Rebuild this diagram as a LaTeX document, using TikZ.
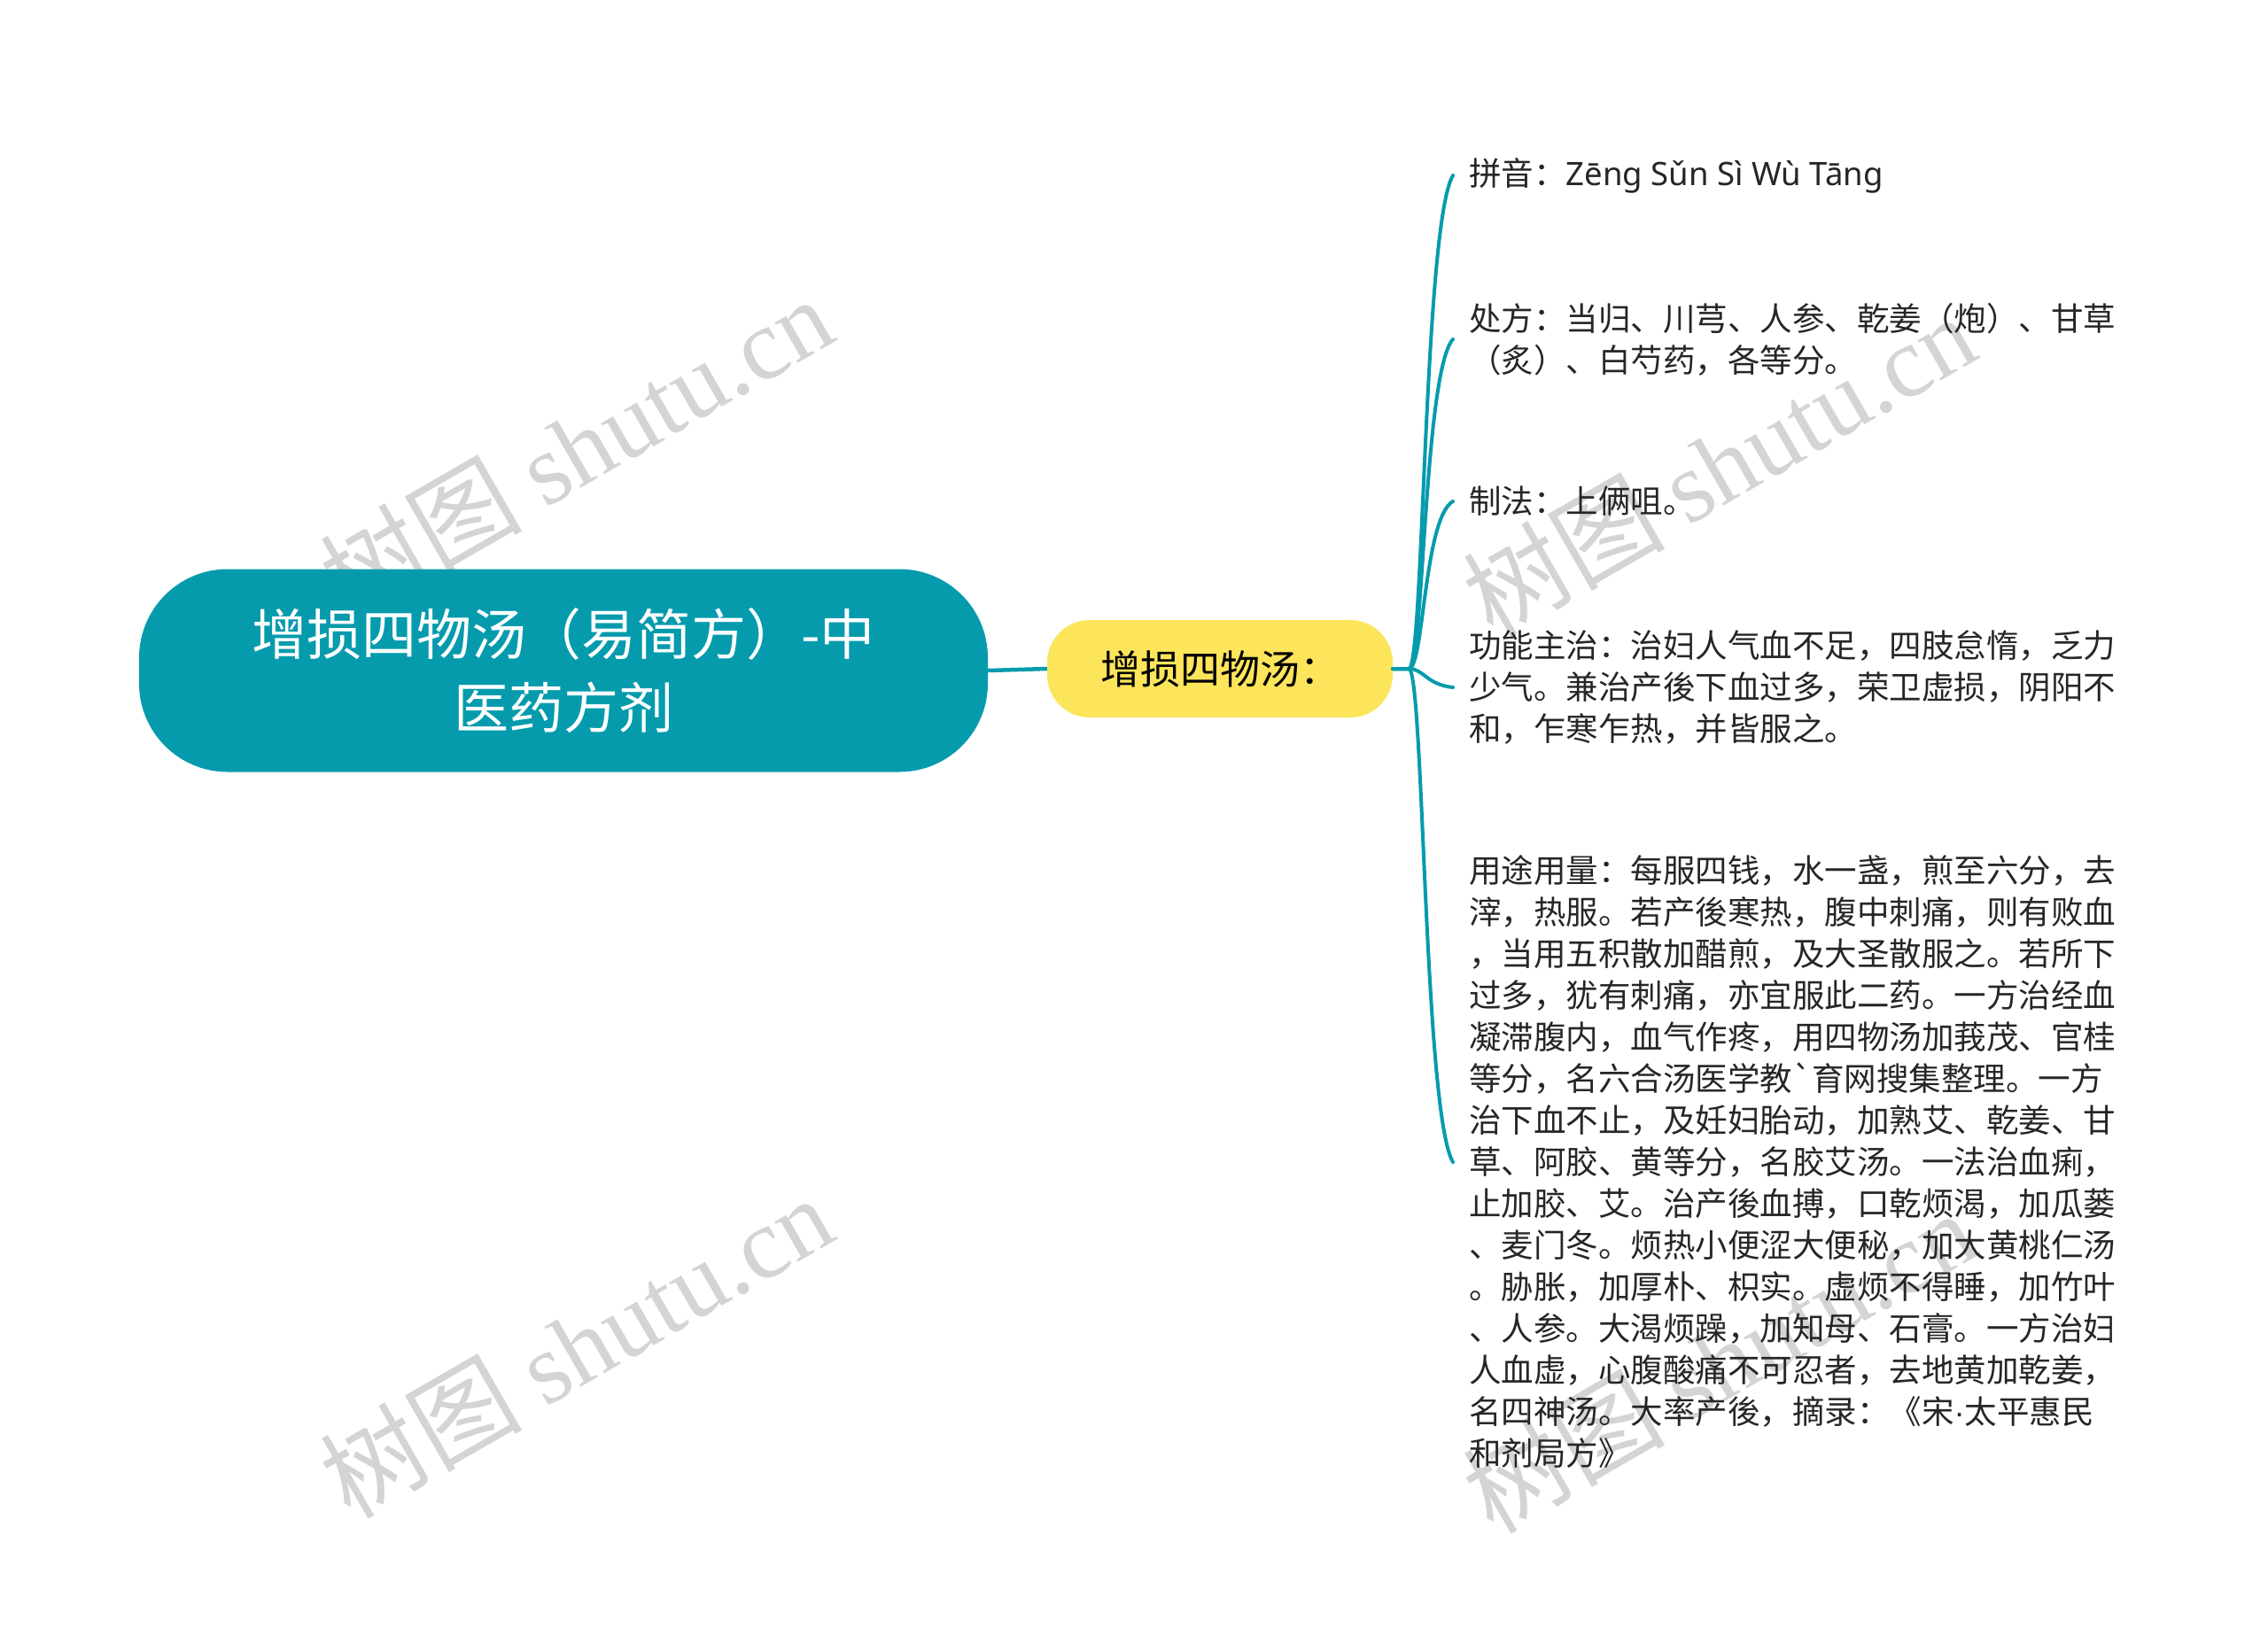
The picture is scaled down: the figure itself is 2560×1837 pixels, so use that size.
\documentclass[tikz,border=0pt]{standalone}
\usepackage{fontspec}
\setmainfont{Noto Sans CJK SC}
\newfontfamily\cjk{Noto Sans CJK SC}
\newfontfamily\latinf{Noto Sans}
\newfontfamily\dotf{Liberation Sans}
\newfontfamily\wmlatin{Liberation Serif}
\usetikzlibrary{calc}
\definecolor{tealc}{HTML}{059BAD}
\definecolor{yelc}{HTML}{FDE55B}
\definecolor{wmc}{HTML}{D4D4D4}
\definecolor{txtc}{HTML}{262626}
\begin{document}
\begin{tikzpicture}[x=1pt,y=-1pt,
  rootbox/.style={fill=tealc, draw=none, rounded corners=100pt, minimum width=958pt, minimum height=229pt, text=white, align=center, inner sep=0pt, font=\cjk\fontsize{62}{83}\selectfont},
  midbox/.style={fill=yelc, draw=none, rounded corners=48pt, minimum width=390pt, minimum height=110pt, text=black, align=center, inner sep=0pt, font=\cjk\fontsize{45}{55}\selectfont},
  leaf/.style={anchor=west, align=left, inner sep=0pt, text=txtc, font=\cjk\fontsize{36.5}{47}\selectfont},
  conn/.style={draw=tealc, line width=4.5pt},
  branch/.style={draw=tealc, line width=4pt, line cap=round},
  wmark/.style={text=wmc, rotate=30, inner sep=0pt, font=\fontsize{114}{120}\selectfont}
]
\useasboundingbox (0,0) rectangle (2560,1837);
\fill[white] (0,0) rectangle (2560,1837);

% watermarks
\node[wmark] (w1) at (650,505) {{\cjk 树图} {\wmlatin shutu.cn}};
\node[wmark] (w2) at (650,1520) {{\cjk 树图} {\wmlatin shutu.cn}};
\node[wmark] (w3) at (1940,525) {{\cjk 树图} {\wmlatin shutu.cn}};
\node[wmark] (w4) at (1940,1537) {{\cjk 树图} {\wmlatin shutu.cn}};

% nodes
\node[rootbox] (root) at (636,757) {增损四物汤（易简方）-中\\医药方剂};
\node[midbox] (mid) at (1377,755) {增损四物汤：};

\node[leaf] (n1) at (1658,198) {拼音：{\latinf Zēng Sǔn Sì Wù Tāng}};
\node[leaf] (n2) at (1658,383) {处方：当归、川芎、人参、乾姜（炮）、甘草\\（炙）、白芍药，各等分。};
\node[leaf] (n3) at (1658,566) {制法：上俩咀。};
\node[leaf] (n4) at (1658,776) {功能主治：治妇人气血不足，四肢怠惰，乏力\\少气。兼治产後下血过多，荣卫虚损，阴阳不\\和，乍寒乍热，并皆服之。};
\node[leaf] (n5) at (1658,1312) {用途用量：每服四钱，水一盏，煎至六分，去\\滓，热服。若产後寒热，腹中刺痛，则有败血\\，当用五积散加醋煎，及大圣散服之。若所下\\过多，犹有刺痛，亦宜服此二药。一方治经血\\凝滞腹内，血气作疼，用四物汤加莪茂、官桂\\等分，名六合汤医学教`育网搜集整理。一方\\治下血不止，及妊妇胎动，加熟艾、乾姜、甘\\草、阿胶、黄等分，名胶艾汤。一法治血痢，\\止加胶、艾。治产後血搏，口乾烦渴，加瓜蒌\\、麦门冬。烦热小便涩大便秘，加大黄桃仁汤\\。胁胀，加厚朴、枳实。虚烦不得睡，加竹叶\\、人参。大渴烦躁，加知母、石膏。一方治妇\\人血虚，心腹酸痛不可忍者，去地黄加乾姜，\\名四神汤。大率产後，摘录：《宋{\dotf ·}太平惠民\\和剂局方》};

% connectors
\draw[conn] (root.east) -- (mid.west);
\draw[branch] (mid.east) -- ++(18,0) .. controls +(17,0) and (1607,254) .. ([xshift=-18pt]n1.west);
\draw[branch] (mid.east) -- ++(18,0) .. controls +(17,0) and (1607,420) .. ([xshift=-18pt]n2.west);
\draw[branch] (mid.east) -- ++(18,0) .. controls +(17,0) and (1607,585) .. ([xshift=-18pt]n3.west);
\draw[branch] (mid.east) -- ++(18,0) .. controls +(17,0) and (1610,773) .. ([xshift=-18pt]n4.west);
\draw[branch] (mid.east) -- ++(18,0) .. controls +(17,0) and (1607,1256) .. ([xshift=-18pt]n5.west);
\end{tikzpicture}
\end{document}
